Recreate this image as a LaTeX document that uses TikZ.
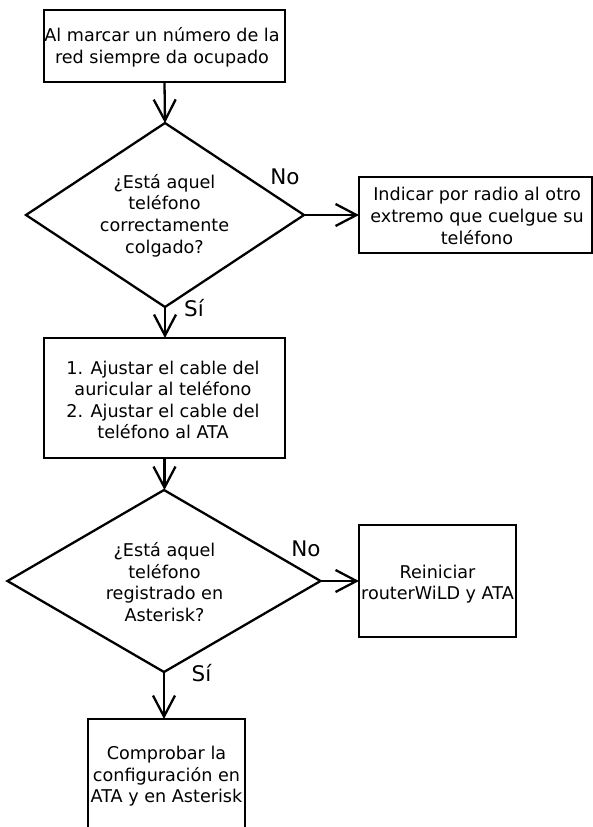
\documentclass[tikz,border=0pt]{standalone}
\usepackage{fontspec}
\setmainfont{DejaVu Sans}
\usetikzlibrary{shapes.geometric,arrows.meta}
\begin{document}
\begin{tikzpicture}[x=1pt,y=-1pt,
  every node/.style={inner sep=0pt, outer sep=0pt},
  stepbox/.style={draw, line width=2.3pt, rectangle},
  decision/.style={draw, line width=2.3pt, diamond},
  txt/.style={align=center, font=\fontsize{17.6}{21.6}\selectfont},
  lbl/.style={font=\fontsize{21.5}{24}\selectfont},
  flow/.style={line width=2.3pt, -{Straight Barb[length=21pt, width=22pt, line width=2.3pt]}}
]
\useasboundingbox (0,0) rectangle (593,827);
\clip (0,0) rectangle (593,827);
\fill[white] (0,0) rectangle (593,827);

% boxes and decisions
\node[stepbox, minimum width=241pt, minimum height=72pt] (b1) at (164.5,46) {};
\node[txt] (t1) at (162,47) {Al marcar un número de la\\red siempre da ocupado};

\node[decision, minimum width=278pt, minimum height=184pt] (d1) at (165,215) {};
\node[txt] (td1) at (164.5,215.5) {¿Está aquel\\teléfono\\correctamente\\colgado?};

\node[stepbox, minimum width=233pt, minimum height=76pt] (b2) at (475.5,215) {};
\node[txt] (t2) at (477,216) {Indicar por radio al otro\\extremo que cuelgue su\\teléfono};

\node[stepbox, minimum width=241pt, minimum height=120pt] (b3) at (164.5,398) {};
\node[txt] (t3) at (163,400) {1. Ajustar el cable del\\auricular al teléfono\\2. Ajustar el cable del\\teléfono al ATA};

\node[decision, minimum width=313pt, minimum height=182pt] (d2) at (164,581) {};
\node[txt] (td2) at (164.5,582) {¿Está aquel\\teléfono\\registrado en\\Asterisk?};

\node[stepbox, minimum width=157pt, minimum height=112pt] (b4) at (437.5,581) {};
\node[txt] (t4) at (437.5,584) {Reiniciar\\routerWiLD y ATA};

\node[stepbox, minimum width=157pt, minimum height=130pt] (b5) at (166.5,784) {};
\node[txt] (t5) at (166.5,776.5) {Comprobar la\\configuración en\\ATA y en Asterisk};

% connectors
\draw[flow] (b1.south) -- (d1.north);
\draw[flow] (d1.east) -- (d1.east -| b2.west);
\draw[flow] (d1.south) -- (d1.south |- b3.north);
\draw[flow] (b3.south) -- (b3.south |- d2.north);
\draw[flow] (d2.east) -- (d2.east -| b4.west);
\draw[flow] (d2.south) -- (d2.south |- b5.north);

% branch labels
\node[lbl] (no1) at (285,177) {No};
\node[lbl] (si1) at (194,308) {Sí};
\node[lbl] (no2) at (306,549) {No};
\node[lbl] (si2) at (201.5,673) {Sí};
\end{tikzpicture}
\end{document}
